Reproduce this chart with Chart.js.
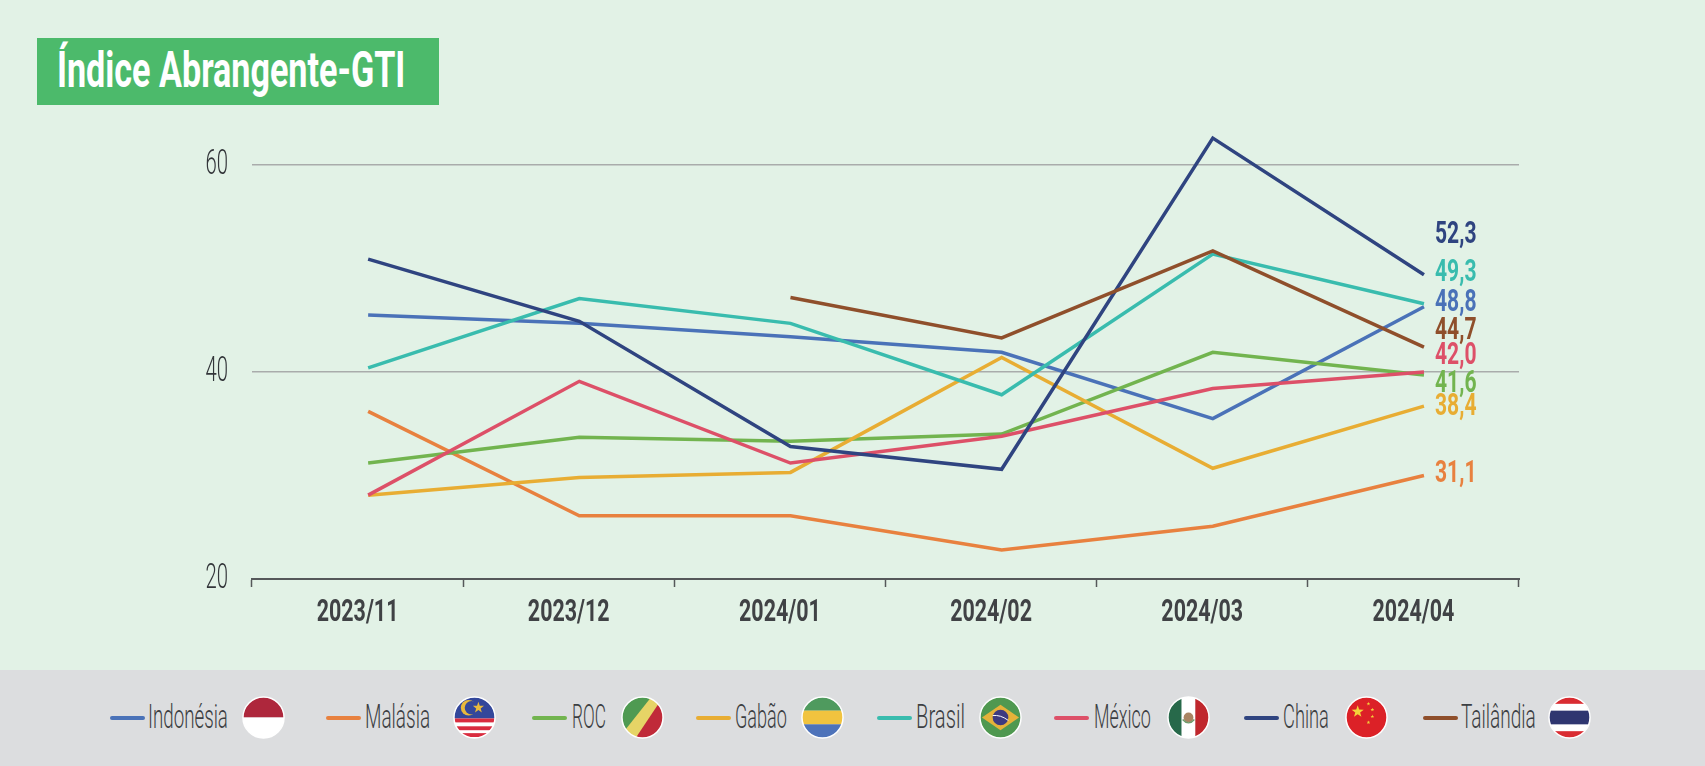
<!DOCTYPE html>
<html>
<head>
<meta charset="utf-8">
<title>Índice Abrangente-GTI</title>
<script src="https://cdn.jsdelivr.net/npm/chart.js@4"></script>
<style>
html,body{margin:0;padding:0;}
body{width:1705px;height:766px;position:relative;overflow:hidden;background:#e2f2e6;font-family:Roboto,"Liberation Sans",sans-serif;}
#grafica{position:absolute;left:0;top:0;}
#titulo{position:absolute;left:37px;top:38px;width:402px;height:67px;background:#4cba6b;}
#titulo span{position:absolute;left:20px;top:1px;font-size:50px;line-height:62px;font-weight:700;color:#fff;white-space:nowrap;transform-origin:left center;display:inline-block;}
#pie{position:absolute;left:0;top:670px;width:1705px;height:96px;background:#dcdddf;}
.raya{position:absolute;top:46px;height:4px;border-radius:2px;}
.nombre{position:absolute;top:25px;font-size:33px;line-height:44px;font-weight:300;color:#3c3f43;white-space:nowrap;transform-origin:left center;}
.bandera{position:absolute;top:26px;width:43px;height:43px;}
</style>
</head>
<body>
<canvas id="grafica" width="1705" height="766"></canvas>
<div id="titulo"><span id="tituloTxt">Índice Abrangente-GTI</span></div>
<div id="pie"></div>
<script>
var meses = ['2023/11','2023/12','2024/01','2024/02','2024/03','2024/04'];
var marcasY = [20,40,60];

var paises = ['Indonésia','Malásia','ROC','Gabão','Brasil','México','China','Tailândia'];
var colores = ['#4a72b8','#e8813f','#72b44f','#e8ad33','#39bcae','#dd5068','#2f4480','#8f4f2b'];

var indonesia = [45.5,44.7,43.4,41.9,35.5,46.3];
var malasia = [36.2,26.1,26.1,22.8,25.1,30.0];
var roc = [31.2,33.7,33.3,34.0,41.9,39.7];
var gabao = [28.1,29.8,30.3,41.4,30.7,36.7];
var brasil = [40.4,47.1,44.7,37.8,51.4,46.6];
var mexico = [28.1,39.1,31.2,33.8,38.4,40.0];
var china = [50.9,44.9,32.8,30.6,62.6,49.4];
var tailandia = [null,null,47.2,43.3,51.7,42.4];
var series = [indonesia,malasia,roc,gabao,brasil,mexico,china,tailandia];

var etiquetasFin = ['48,8','31,1','41,6','38,4','49,3','42,0','52,3','44,7'];

// posiciones de las etiquetas finales y de la leyenda (px)
var etiquetasY = [303,474,384,407,273,356,235,331];
var rayaX = [110,326,532,696,877,1054,1244,1423];
var nombreX = [148,365,572,735,916,1094,1283,1461];
var nombreW = [80,65,34,52,49,57,46,75];
var banderaX = [242,453,621,801,979,1167,1345,1548];

function angosto(ctx,texto,x,y,fuente,color,factor,alinear){
    ctx.save();
    ctx.font = fuente;
    ctx.fillStyle = color;
    ctx.textAlign = alinear;
    ctx.textBaseline = 'middle';
    ctx.fillText(texto,x,y,ctx.measureText(texto).width*factor);
    ctx.restore();
}

var textos = {
    id:'textos',
    afterDraw:function(c){
        var ctx = c.ctx;
        c.scales.y.ticks.forEach(function(t){
            angosto(ctx,String(t.value),228,c.scales.y.getPixelForValue(t.value),'300 35px Roboto','#33363a',0.58,'right');
        });
        meses.forEach(function(m,i){
            angosto(ctx,m,c.scales.x.getPixelForTick(i),613,'700 32px Roboto','#404245',0.67,'center');
        });
        etiquetasFin.forEach(function(e,i){
            angosto(ctx,e,1435,etiquetasY[i],'700 31px Roboto',colores[i],0.68,'left');
        });
    }
};

var estrella = function(x,y,r,c){
    var p = [];
    for(var i=0;i<10;i++){
        var a = -Math.PI/2+i*Math.PI/5, q = i%2 ? r*0.4 : r;
        p.push((x+q*Math.cos(a)).toFixed(1)+','+(y+q*Math.sin(a)).toFixed(1));
    }
    return '<polygon points="'+p.join(' ')+'" fill="'+c+'"/>';
};

var banderas = [
    '<rect width="42" height="21" fill="#ae273c"/><rect y="21" width="42" height="21" fill="#fff"/>',
    '<rect width="42" height="42" fill="#fff"/><rect width="42" height="22" fill="#33479b"/><rect y="22" width="42" height="4" fill="#d92c3f"/><rect y="30" width="42" height="4" fill="#d92c3f"/><rect y="37" width="42" height="4" fill="#d92c3f"/><circle cx="15" cy="11" r="8" fill="#e8b93c"/><circle cx="18" cy="11" r="7" fill="#33479b"/>'+estrella(25,11,6,'#e8b93c'),
    '<rect width="42" height="42" fill="#4f9a52"/><polygon points="42,0 42,42 0,42" fill="#c02a39"/><polygon points="30,0 42,0 14,42 0,42 0,38" fill="#e6d466"/>',
    '<rect width="42" height="14" fill="#4f9a5e"/><rect y="14" width="42" height="14" fill="#f1c33f"/><rect y="28" width="42" height="14" fill="#4e73ba"/>',
    '<rect width="42" height="42" fill="#4f9850"/><polygon points="21,8 40,21 21,34 2,21" fill="#e5b23a"/><circle cx="21" cy="21" r="8" fill="#3d3a80"/><path d="M13 19 Q21 18 29 24" stroke="#fff" stroke-width="1" fill="none"/>',
    '<rect width="14" height="42" fill="#27694a"/><rect x="14" width="14" height="42" fill="#fff"/><rect x="28" width="14" height="42" fill="#c0272d"/><circle cx="21" cy="21" r="5" fill="#a98463"/><path d="M15 23 Q21 30 27 23" stroke="#6f9a6a" stroke-width="1.5" fill="none"/>',
    '<rect width="42" height="42" fill="#dc2127"/>'+estrella(12,15,6.5,'#f3d23a')+estrella(23,7,2,'#f3d23a')+estrella(27,13,2,'#f3d23a')+estrella(27,20,2,'#f3d23a')+estrella(23,26,2,'#f3d23a'),
    '<rect width="42" height="42" fill="#d92c32"/><rect y="7" width="42" height="28" fill="#fff"/><rect y="14" width="42" height="14" fill="#2f3670"/>'
];

// leyenda
var pie = document.getElementById('pie');
paises.forEach(function(p,i){
    var raya = document.createElement('div');
    raya.className = 'raya';
    raya.style.left = rayaX[i]+'px';
    raya.style.width = '35px';
    raya.style.background = colores[i];
    pie.appendChild(raya);

    var nombre = document.createElement('div');
    nombre.className = 'nombre';
    nombre.style.left = nombreX[i]+'px';
    nombre.textContent = p;
    pie.appendChild(nombre);
    nombre.style.transform = 'scaleX('+(nombreW[i]/nombre.offsetWidth)+')';

    var b = document.createElementNS('http://www.w3.org/2000/svg','svg');
    b.setAttribute('class','bandera');
    b.setAttribute('viewBox','-1 -1 44 44');
    b.style.left = banderaX[i]+'px';
    b.innerHTML = '<clipPath id="c'+i+'"><circle cx="21" cy="21" r="21"/></clipPath><g clip-path="url(#c'+i+')">'+banderas[i]+'</g><circle cx="21" cy="21" r="21" fill="none" stroke="#fff" stroke-width="1.5"/>';
    pie.appendChild(b);
});

var tt = document.getElementById('tituloTxt');
tt.style.transform = 'scaleX('+(348/tt.offsetWidth)+')';

var chart = new Chart(document.getElementById('grafica'),{
    type:'line',
    data:{
        labels:meses,
        datasets:paises.map(function(p,i){
            return {
                label:p,
                xAxisID:'xp',
                data:series[i].map(function(v,j){ return {x:j,y:v}; }),
                borderColor:colores[i],
                borderWidth:3.5,
                pointRadius:0,
                tension:0,
                clip:false,
                order:paises.length-i
            };
        })
    },
    options:{
        responsive:false,
        animation:false,
        layout:{padding:{left:0,top:165,right:186,bottom:0}},
        plugins:{legend:{display:false},title:{display:false},tooltip:{enabled:false}},
        scales:{
            x:{
                type:'category',
                offset:true,
                afterFit:function(s){ s.height = 187; },
                border:{display:true,color:'#55585a',width:2},
                grid:{offset:true,drawOnChartArea:false,drawTicks:true,tickLength:8,tickColor:'#55585a',tickWidth:1.5},
                ticks:{display:false,autoSkip:false}
            },
            // las lineas van corridas un poco a la derecha del centro de cada mes
            xp:{
                type:'linear',
                display:false,
                min:-0.55,
                max:5.45
            },
            y:{
                min:marcasY[0],
                max:marcasY[marcasY.length-1],
                afterFit:function(s){ s.width = 252; },
                border:{display:false},
                grid:{color:'#a9acab',lineWidth:1.5,drawTicks:false},
                ticks:{display:false,stepSize:20}
            }
        }
    },
    plugins:[textos]
});
</script>
</body>
</html>
